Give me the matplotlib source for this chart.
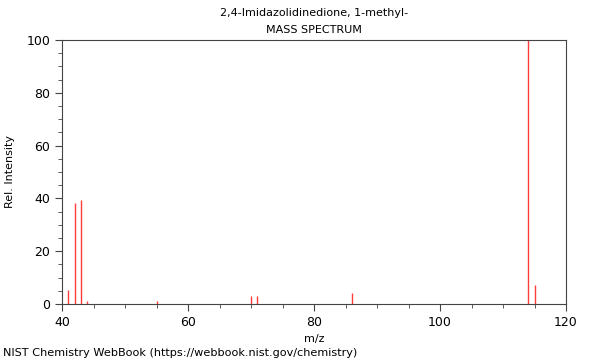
import matplotlib
matplotlib.use("Agg")
import matplotlib.pyplot as plt
from matplotlib.ticker import MultipleLocator

# Picos del espectro de masas (m/z, intensidad relativa)
mz = [41, 42, 43, 44, 55, 70, 71, 86, 114, 115]
intensidad = [5.3, 38.4, 39.4, 1.1, 1.1, 3.1, 3.1, 4.3, 100, 7.3]

titulo = "2,4-Imidazolidinedione, 1-methyl-"
subtitulo = "MASS SPECTRUM"
pie = "NIST Chemistry WebBook (https://webbook.nist.gov/chemistry)"

fig = plt.figure(figsize=(6, 3.6), dpi=100)
ax = fig.add_axes([62/600, 56/360, 504/600, 264/360])

ax.vlines(mz, 0, intensidad, color="#ff3b3b", linewidth=1)

ax.set_xlim(40, 120)
ax.set_ylim(0, 100)
ax.xaxis.set_major_locator(MultipleLocator(20))
ax.xaxis.set_minor_locator(MultipleLocator(5))
ax.yaxis.set_major_locator(MultipleLocator(20))
ax.yaxis.set_minor_locator(MultipleLocator(5))
ax.tick_params(which="major", length=5, labelsize=9, color="#444444")
ax.tick_params(which="minor", length=3, color="#444444")
for s in ax.spines.values():
    s.set_color("#444444")

ax.set_xlabel("m/z", fontsize=8)
ax.set_ylabel("Rel. Intensity", fontsize=8, labelpad=8)

xc = (62 + 566) / 2 / 600
fig.text(xc, 1 - 13/360, titulo, ha="center", va="center", fontsize=8)
fig.text(xc, 1 - 30/360, subtitulo, ha="center", va="center", fontsize=8)
fig.text(3/600, 1 - 353/360, pie, ha="left", va="center", fontsize=8.15)

fig.savefig("out.png", dpi=100)
